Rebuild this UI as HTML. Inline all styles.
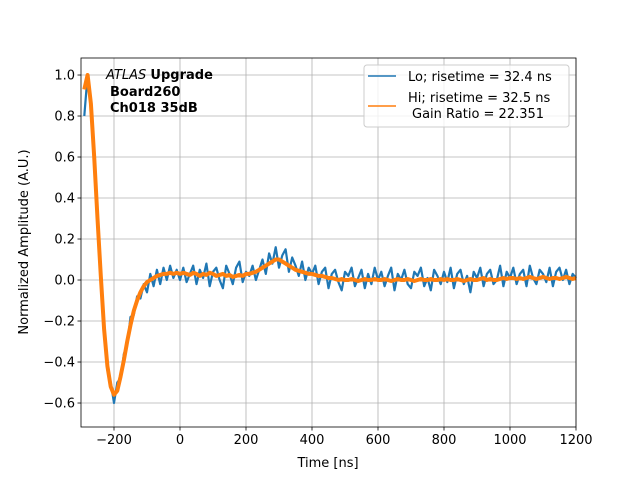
<!DOCTYPE html>
<html><head><meta charset="utf-8"><style>
body{margin:0;background:#fff}
svg{display:block;font-family:"DejaVu Sans","Liberation Sans",sans-serif}
</style></head><body>
<svg id="chart" width="640" height="480">
<rect width="640" height="480" fill="#fff"/>
<g id="grid"></g>
<g id="plot"></g>
<rect x="81" y="58" width="495" height="369" fill="none" stroke="#000" stroke-width="0.8"/>
<g id="ticks"></g>
<text x="328" y="467" text-anchor="middle" font-size="13">Time [ns]</text>
<text transform="translate(28,242) rotate(-90)" text-anchor="middle" font-size="13">Normalized Amplitude (A.U.)</text>
<g font-size="13">
<text x="106" y="79"><tspan font-style="italic">ATLAS</tspan> <tspan font-weight="bold">Upgrade</tspan></text>
<text x="110" y="96" font-weight="bold">Board260</text>
<text x="110" y="112" font-weight="bold">Ch018 35dB</text>
</g>
<g>
<rect x="364" y="65" width="205" height="62" rx="3" fill="#fff" fill-opacity="0.8" stroke="#ccc"/>
<line x1="368" y1="76" x2="396" y2="76" stroke="#1f77b4" stroke-width="1.5"/>
<text x="408" y="81" font-size="13">Lo; risetime = 32.4 ns</text>
<line x1="368" y1="106" x2="396" y2="106" stroke="#ff7f0e" stroke-width="1.5"/>
<text x="408" y="102" font-size="13">Hi; risetime = 32.5 ns</text>
<text x="412" y="118" font-size="13">Gain Ratio = 22.351</text>
</g>
</svg>
<script>
const t0 = -290, dt = 10;
const loValues = [0.80,1.00,0.84,0.62,0.28,0.03,-0.22,-0.44,-0.50,-0.60,-0.50,-0.48,-0.36,-0.32,-0.18,-0.17,-0.08,-0.09,-0.02,-0.06,0.03,-0.03,0.05,-0.02,0.06,0.0,0.07,0.01,0.05,0.0,
0.06,-0.01,0.03,0.07,-0.02,0.05,0.01,0.08,-0.03,0.04,0.06,0.0,-0.04,0.07,0.03,-0.02,0.06,0.09,-0.01,0.04,
0.02,0.07,0.0,0.05,0.10,0.03,0.13,0.08,0.16,0.06,0.12,0.15,0.04,0.11,0.07,0.02,0.09,0.0,0.06,0.03,
0.07,-0.02,0.04,0.06,-0.04,0.03,0.05,-0.01,-0.05,0.04,0.02,0.06,-0.03,0.01,0.05,-0.04,0.03,-0.02,0.06,0.0,
0.04,-0.03,0.02,0.06,-0.05,0.03,0.0,0.05,-0.02,-0.04,0.04,0.02,0.06,-0.03,0.01,-0.05,0.05,0.02,-0.02,0.04,
-0.01,0.06,-0.04,0.03,0.05,-0.02,0.02,-0.06,0.04,0.01,0.06,-0.03,0.03,0.05,-0.02,0.0,0.07,-0.03,0.04,0.01,
0.06,-0.02,0.03,0.05,-0.03,0.07,0.01,-0.02,0.05,0.03,-0.01,0.06,-0.03,0.04,0.06,0.0,0.05,-0.02,0.03,0.01];
const hiValues = [0.93,1.00,0.86,0.60,0.30,0.02,-0.24,-0.42,-0.52,-0.56,-0.54,-0.47,-0.39,-0.30,-0.22,-0.15,-0.10,-0.06,-0.03,-0.01,0.00,0.01,0.02,0.025,0.03,0.03,0.035,0.03,0.035,0.03,
0.035,0.03,0.025,0.035,0.03,0.02,0.03,0.025,0.035,0.03,0.02,0.025,0.03,0.02,0.025,0.015,0.02,0.025,0.02,0.03,
0.03,0.035,0.04,0.05,0.06,0.07,0.08,0.09,0.10,0.10,0.09,0.08,0.07,0.06,0.05,0.045,0.04,0.035,0.03,0.03,
0.025,0.02,0.02,0.015,0.01,0.01,0.005,0.0,0.005,0.0,0.0,0.005,0.0,-0.005,0.0,0.005,0.0,0.0,0.005,0.0,
0,0.005,0,-0.005,0,0.005,0,0,0.005,0,-0.005,0,0.005,0,0,0.005,0,0,0.005,0,
0.005,0,0,0.005,0,-0.005,0,0.005,0,0,0.005,0.01,0,0.005,0,0,0.005,0.01,0.005,0.01,
0.01,0.005,0.01,0.005,0.01,0.015,0.01,0.005,0.01,0.015,0.01,0.005,0.01,0.01,0.005,0.01,0.015,0.01,0.005,0.01];
const xTicks = [-200,0,200,400,600,800,1000,1200];
const yTicks = [-0.6,-0.4,-0.2,0.0,0.2,0.4,0.6,0.8,1.0];
const yTickLabels = ["−0.6","−0.4","−0.2","0.0","0.2","0.4","0.6","0.8","1.0"];

const L=81,R=576,T=58,B=427, xmin=-300,xmax=1200, ymin=-0.717,ymax=1.083;
const sx=v=>L+(v-xmin)/(xmax-xmin)*(R-L);
const sy=v=>B-(v-ymin)/(ymax-ymin)*(B-T);
const NS="http://www.w3.org/2000/svg";
function mk(tag,attrs,parent){const e=document.createElementNS(NS,tag);for(const k in attrs)e.setAttribute(k,attrs[k]);parent.appendChild(e);return e;}
const grid=document.getElementById('grid'),ticks=document.getElementById('ticks'),plot=document.getElementById('plot');
xTicks.forEach(v=>{const x=sx(v);
 const g=mk('line',{x1:x,x2:x,y1:T,y2:B,stroke:'#b0b0b0','stroke-width':0.8},grid);
 
 
 mk('line',{x1:x,x2:x,y1:B,y2:B+3.5,stroke:'#000','stroke-width':0.8},ticks);
 const t=mk('text',{x:x,y:B+17,'text-anchor':'middle','font-size':13},ticks);t.textContent=(v<0?'−'+(-v):v);
 
 
});
yTicks.forEach((v,i)=>{const y=sy(v);
 const g=mk('line',{x1:L,x2:R,y1:y,y2:y,stroke:'#b0b0b0','stroke-width':0.8},grid);
 
 
 mk('line',{x1:L-3.5,x2:L,y1:y,y2:y,stroke:'#000','stroke-width':0.8},ticks);
 const t=mk('text',{x:L-6,y:y+4.5,'text-anchor':'end','font-size':13},ticks);t.textContent=yTickLabels[i];
 
 
});
function path(vals){return vals.map((v,i)=>(i?'L':'M')+sx(t0+i*dt).toFixed(1)+','+sy(v).toFixed(1)).join('');}
const lo=mk('path',{d:path(loValues),fill:'none',stroke:'#1f77b4','stroke-width':2.2,'stroke-linejoin':'round'},plot);


const hi=mk('path',{d:path(hiValues),fill:'none',stroke:'#ff7f0e','stroke-width':4,'stroke-linejoin':'round'},plot);


</script>
</body></html>
